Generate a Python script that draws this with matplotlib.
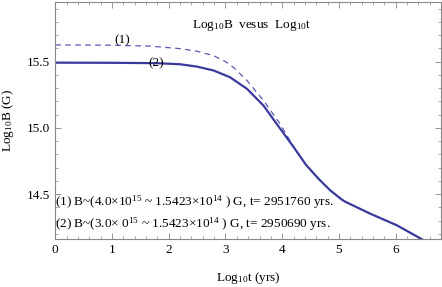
import matplotlib
matplotlib.use("Agg")
import matplotlib.pyplot as plt
from matplotlib.ticker import MultipleLocator

plt.rcParams['font.family'] = ['Liberation Serif', 'DejaVu Serif']
plt.rcParams['mathtext.fontset'] = 'custom'
plt.rcParams['mathtext.rm'] = 'Liberation Serif'
plt.rcParams['mathtext.it'] = 'Liberation Serif:italic'

# Series (1): dashed
log_t1 = [0, 1.0, 1.67, 2.2, 2.5, 2.79, 3.0, 3.14, 3.38, 3.67, 3.96, 4.26, 4.42, 4.64, 4.84, 5.05, 5.12, 5.55, 6.02, 6.46]
log_B1 = [15.626, 15.624, 15.617, 15.598, 15.578, 15.545, 15.50, 15.457, 15.357, 15.206, 15.031, 14.815, 14.72, 14.615, 14.53, 14.458, 14.44, 14.352, 14.264, 14.159]
# Series (2): solid
log_t2 = [0, 1.01, 1.8, 2.2, 2.5, 2.79, 3.08, 3.38, 3.67, 3.90, 4.20, 4.42, 4.64, 4.84, 5.05, 5.12, 5.55, 6.02, 6.46]
log_B2 = [15.492, 15.491, 15.488, 15.480, 15.462, 15.433, 15.382, 15.294, 15.168, 15.031, 14.855, 14.72, 14.615, 14.53, 14.458, 14.44, 14.352, 14.264, 14.159]

x_ticks = [0, 1, 2, 3, 4, 5, 6]
y_ticks = [14.5, 15.0, 15.5]

fig = plt.figure(figsize=(4.42, 2.87), dpi=100)
ax = fig.add_axes([0.125, 0.167, 0.873, 0.826])

ax.plot(log_t1, log_B1, color='#5a5ab4', lw=0.9, dashes=(4.5, 3.5))
ax.plot(log_t2, log_B2, color='#3a3a9c', lw=1.6)

ax.set_xlim(0, 6.8)
ax.set_ylim(14.16, 15.95)
ax.set_xticks(x_ticks)
ax.set_yticks(y_ticks)
ax.set_xticklabels([str(v) for v in x_ticks])
ax.set_yticklabels([f"{v:.1f}" for v in y_ticks])
ax.xaxis.set_minor_locator(MultipleLocator(0.2))
ax.yaxis.set_minor_locator(MultipleLocator(0.1))
ax.tick_params(which='both', direction='in', top=True, right=True, color='#888888', labelsize=9.5)
ax.tick_params(which='major', length=4, width=0.6)
ax.tick_params(which='minor', length=2.2, width=0.5)
for s in ax.spines.values():
    s.set_color('#888888')
    s.set_linewidth(0.8)

ax.set_xlabel(r'Log$_{10}$t (yrs)', fontsize=9.5, labelpad=10)
ax.set_ylabel(r'Log$_{10}$B (G)', fontsize=9.5, labelpad=8)

ax.text(0.51, 0.903, r'Log$_{10}$B  vesus  Log$_{10}$t', transform=ax.transAxes,
        ha='center', va='center', fontsize=9.5)
ax.text(1.18, 15.66, '(1)', ha='center', va='center', fontsize=9.5)
ax.text(1.77, 15.485, '(2)', ha='center', va='center', fontsize=9.5)
ax.text(0.0, 14.44, r'(1) B~(4.0$\times$10$^{15}$ ~ 1.5423$\times$10$^{14}$ ) G, t= 2951760 yrs.',
        ha='left', va='center', fontsize=9.5)
ax.text(0.0, 14.272, r'(2) B~(3.0$\times$ 0$^{15}$ ~ 1.5423$\times$10$^{14}$ ) G, t= 2950690 yrs.',
        ha='left', va='center', fontsize=9.5)

fig.savefig('out.png', dpi=100)
